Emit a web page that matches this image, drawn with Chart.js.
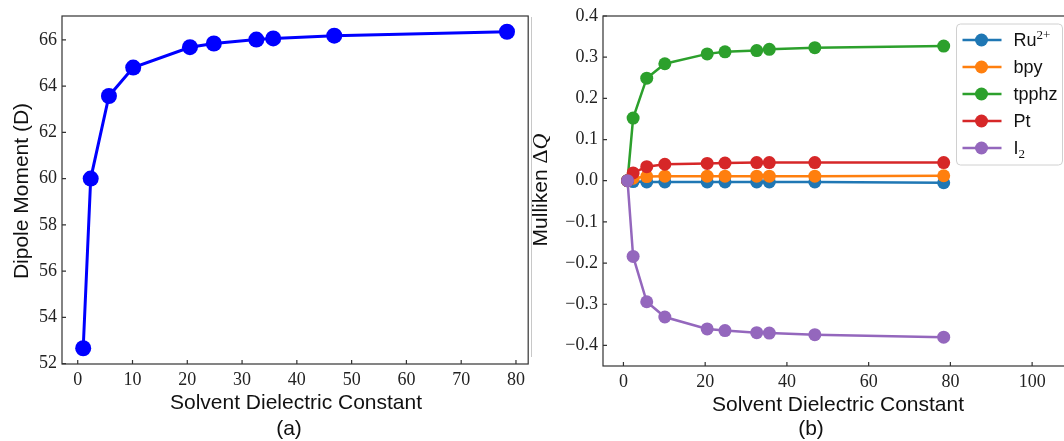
<!DOCTYPE html>
<html>
<head>
<meta charset="utf-8">
<title>Dipole moment and Mulliken charges vs solvent</title>
<script src="https://cdn.jsdelivr.net/npm/chart.js@4.4.1/dist/chart.umd.min.js"></script>
<style>
    html, body { margin: 0; padding: 0; background: #fff; }
    #wrap { position: relative; width: 1064px; height: 441px; overflow: hidden; }
    #chartA { position: absolute; left: 0; top: 0; }
    #chartB { position: absolute; left: 530px; top: 0; }
</style>
</head>
<body>
<div id="wrap">
    <canvas id="chartA" width="530" height="441"></canvas>
    <canvas id="chartB" width="546" height="441"></canvas>
</div>
<script>
// Solvent dielectric constants (vacuum, toluene, chlorobenzene, DCE, acetone, EtOH, MeOH, MeCN, DMSO, water)
const dielectric = [1.0, 2.37, 5.70, 10.13, 20.49, 24.85, 32.61, 35.69, 46.83, 78.36];

// Panel (a)
const dipoleMoment = [52.66, 60.00, 63.57, 64.80, 65.68, 65.84, 66.01, 66.06, 66.18, 66.35];
const xTicksA = [0, 10, 20, 30, 40, 50, 60, 70, 80];
const yTicksA = [52, 54, 56, 58, 60, 62, 64, 66];

// Panel (b) - Mulliken charge change per fragment
const seriesNames = ['Ru^{2+}', 'bpy', 'tpphz', 'Pt', 'I_{2}'];
const ruQ    = [0, -0.002, -0.003, -0.003, -0.003, -0.003, -0.003, -0.003, -0.003, -0.005];
const bpyQ   = [0, 0.006, 0.010, 0.011, 0.011, 0.011, 0.011, 0.011, 0.011, 0.012];
const tpphzQ = [0, 0.152, 0.249, 0.284, 0.308, 0.313, 0.316, 0.319, 0.323, 0.327];
const ptQ    = [0, 0.019, 0.034, 0.040, 0.042, 0.043, 0.044, 0.044, 0.044, 0.044];
const i2Q    = [0, -0.184, -0.294, -0.331, -0.360, -0.364, -0.369, -0.370, -0.374, -0.380];
const xTicksB = [0, 20, 40, 60, 80, 100];
const yTicksB = [-0.4, -0.3, -0.2, -0.1, 0.0, 0.1, 0.2, 0.3, 0.4];

const xLabel = 'Solvent Dielectric Constant';
const yLabelA = 'Dipole Moment (D)';

const colors = ['#1f77b4', '#ff7f0e', '#2ca02c', '#d62728', '#9467bd'];
const SANS = '"Liberation Sans", Arial, sans-serif';
const SERIF = '"Liberation Serif", "Times New Roman", serif';

// draws text with ^{..} / _{..} parts
function drawRich(ctx, str, x, y, size) {
    const parts = str.split(/(\^\{[^}]*\}|_\{[^}]*\})/).filter(Boolean);
    parts.forEach(p => {
        if (p[0] === '^' || p[0] === '_') {
            const t = p.slice(2, -1);
            ctx.font = Math.round(size * 0.72) + 'px ' + SERIF;
            const dy = p[0] === '^' ? -size * 0.4 : size * 0.2;
            ctx.fillText(t, x, y + dy);
            x += ctx.measureText(t).width;
        } else {
            ctx.font = size + 'px ' + SANS;
            ctx.fillText(p, x, y);
            x += ctx.measureText(p).width;
        }
    });
}

const decor = {
    id: 'decor',
    afterDraw(chart, args, o) {
        const ctx = chart.ctx;
        const a = chart.chartArea;
        const xs = chart.scales.x, ys = chart.scales.y;
        ctx.save();

        // frame + inward ticks
        ctx.strokeStyle = '#333';
        ctx.lineWidth = 1.2;
        ctx.strokeRect(a.left, a.top, a.right - a.left, a.bottom - a.top);
        ctx.beginPath();
        xs.ticks.forEach(t => {
            const px = xs.getPixelForValue(t.value);
            ctx.moveTo(px, a.bottom);
            ctx.lineTo(px, a.bottom - 4);
        });
        ys.ticks.forEach(t => {
            const py = ys.getPixelForValue(t.value);
            ctx.moveTo(a.left, py);
            ctx.lineTo(a.left + 4, py);
        });
        ctx.stroke();

        // axis titles and caption
        ctx.fillStyle = '#111';
        ctx.textAlign = 'center';
        ctx.textBaseline = 'middle';
        ctx.font = '21px ' + SANS;
        ctx.fillText(xLabel, o.xTitleX, o.xTitleY);
        ctx.fillText(o.caption, o.captionX, o.captionY);

        ctx.save();
        ctx.translate(o.yTitleX, o.yTitleY);
        ctx.rotate(-Math.PI / 2);
        if (o.yTitle) {
            ctx.fillText(o.yTitle, 0, 0);
        } else {
            // "Mulliken ΔQ" with math ΔQ
            ctx.font = '21px ' + SANS;
            const w1 = ctx.measureText('Mulliken ').width;
            ctx.font = '22px ' + SERIF;
            const w2 = ctx.measureText('\u0394').width;
            ctx.font = 'italic 22px ' + SERIF;
            const w3 = ctx.measureText('Q').width;
            let x = -(w1 + w2 + w3) / 2;
            ctx.textAlign = 'left';
            ctx.font = '21px ' + SANS;
            ctx.fillText('Mulliken ', x, 0);
            x += w1;
            ctx.font = '22px ' + SERIF;
            ctx.fillText('\u0394', x, 0);
            x += w2;
            ctx.font = 'italic 22px ' + SERIF;
            ctx.fillText('Q', x, 0);
        }
        ctx.restore();

        if (o.legend) {
            // faint separator line at the left of panel (b)
            ctx.strokeStyle = '#c8c8c8';
            ctx.lineWidth = 1;
            ctx.beginPath();
            ctx.moveTo(1.5, 17);
            ctx.lineTo(1.5, 357);
            ctx.stroke();

            const L = o.legend;
            ctx.fillStyle = 'rgba(255,255,255,0.85)';
            ctx.strokeStyle = '#d0d0d0';
            ctx.lineWidth = 1;
            ctx.beginPath();
            ctx.roundRect(L.left, L.top, L.width, L.height, 4);
            ctx.fill();
            ctx.stroke();
            ctx.textAlign = 'left';
            ctx.textBaseline = 'alphabetic';
            chart.data.datasets.forEach((ds, i) => {
                const cy = L.top + 16 + i * 27;
                ctx.strokeStyle = ds.borderColor;
                ctx.lineWidth = 2.5;
                ctx.beginPath();
                ctx.moveTo(L.left + 6, cy);
                ctx.lineTo(L.left + 45, cy);
                ctx.stroke();
                ctx.fillStyle = ds.backgroundColor;
                ctx.beginPath();
                ctx.arc(L.left + 25, cy, 6.5, 0, Math.PI * 2);
                ctx.fill();
                ctx.fillStyle = '#111';
                drawRich(ctx, ds.label, L.left + 57, cy + 6, 18);
            });
        }
        ctx.restore();
    }
};

function tickFont() {
    return { family: '"Liberation Serif", "Times New Roman", serif', size: 18 };
}

// Panel (a)
new Chart(document.getElementById('chartA'), {
    type: 'line',
    data: {
        datasets: [{
            data: dielectric.map((x, i) => ({ x: x, y: dipoleMoment[i] })),
            borderColor: '#0000ff',
            backgroundColor: '#0000ff',
            borderWidth: 3,
            pointRadius: 8,
            pointHoverRadius: 8,
            pointBorderWidth: 0,
            tension: 0
        }]
    },
    options: {
        responsive: false,
        animation: false,
        devicePixelRatio: 1,
        layout: { autoPadding: false, padding: { top: 16, right: 1, left: 0, bottom: 0 } },
        plugins: {
            legend: { display: false },
            tooltip: { enabled: false },
            decor: {
                xTitleX: 296, xTitleY: 403, caption: '(a)', captionX: 289, captionY: 429,
                yTitle: yLabelA, yTitleX: 22, yTitleY: 191
            }
        },
        scales: {
            x: {
                type: 'linear', min: -2.87, max: 82.23,
                grid: { display: false, drawTicks: false },
                border: { display: false },
                afterBuildTicks: s => { s.ticks = xTicksA.map(v => ({ value: v })); },
                afterFit: s => { s.height = 77; },
                ticks: { font: tickFont(), color: '#222', padding: 5, maxRotation: 0, autoSkip: false, callback: v => String(v) }
            },
            y: {
                min: 51.98, max: 67.03,
                grid: { display: false, drawTicks: false },
                border: { display: false },
                afterBuildTicks: s => { s.ticks = yTicksA.map(v => ({ value: v })); },
                afterFit: s => { s.width = 62; },
                ticks: { font: tickFont(), color: '#222', padding: 5, autoSkip: false, callback: v => String(v) }
            }
        }
    },
    plugins: [decor]
});

// Panel (b)
const chargeSeries = [ruQ, bpyQ, tpphzQ, ptQ, i2Q];
new Chart(document.getElementById('chartB'), {
    type: 'line',
    data: {
        datasets: chargeSeries.map((vals, k) => ({
            label: seriesNames[k],
            data: dielectric.map((x, i) => ({ x: x, y: vals[i] })),
            borderColor: colors[k],
            backgroundColor: colors[k],
            borderWidth: 2.5,
            pointRadius: 6.5,
            pointHoverRadius: 6.5,
            pointBorderWidth: 0,
            tension: 0,
            order: chargeSeries.length - 1 - k
        }))
    },
    options: {
        responsive: false,
        animation: false,
        devicePixelRatio: 1,
        layout: { autoPadding: false, padding: { top: 16, right: 3, left: 0, bottom: 0 } },
        plugins: {
            legend: { display: false },
            tooltip: { enabled: false },
            decor: {
                xTitleX: 308, xTitleY: 405, caption: '(b)', captionX: 281, captionY: 429,
                yTitleX: 11, yTitleY: 190,
                legend: { left: 426.5, top: 24, width: 106, height: 141 }
            }
        },
        scales: {
            x: {
                type: 'linear', min: -5, max: 110,
                grid: { display: false, drawTicks: false },
                border: { display: false },
                afterBuildTicks: s => { s.ticks = xTicksB.map(v => ({ value: v })); },
                afterFit: s => { s.height = 75; },
                ticks: { font: tickFont(), color: '#222', padding: 5, maxRotation: 0, autoSkip: false, callback: v => String(v) }
            },
            y: {
                min: -0.45, max: 0.4,
                grid: { display: false, drawTicks: false },
                border: { display: false },
                afterBuildTicks: s => { s.ticks = yTicksB.map(v => ({ value: v })); },
                afterFit: s => { s.width = 73; },
                ticks: {
                    font: tickFont(), color: '#222', padding: 5, autoSkip: false,
                    callback: v => (v < -1e-9 ? '\u2212' : '') + Math.abs(v).toFixed(1)
                }
            }
        }
    },
    plugins: [decor]
});
</script>
</body>
</html>
